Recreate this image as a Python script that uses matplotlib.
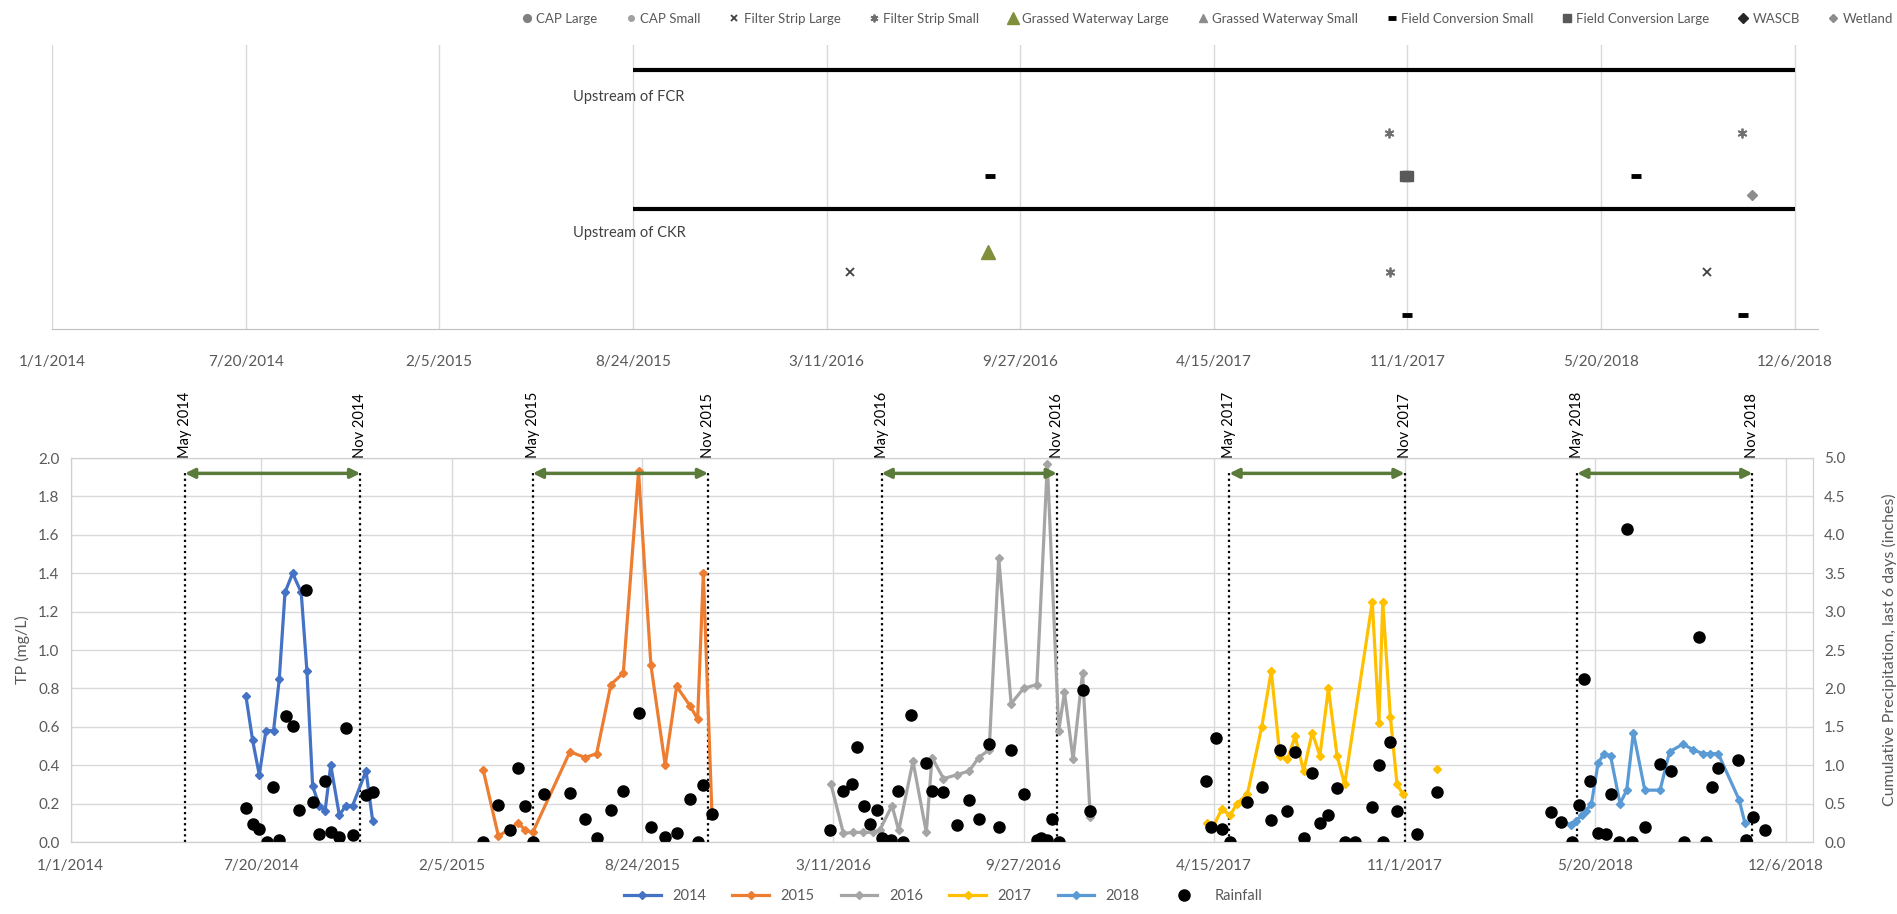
import datetime as dt

import matplotlib.dates as mdates
import matplotlib.pyplot as plt
from matplotlib.lines import Line2D
from matplotlib.ticker import FuncFormatter, MultipleLocator

plt.rcParams['font.family'] = ['Lato', 'DejaVu Sans']

AXIS_GREY = '#595959'
GRID_GREY = '#d9d9d9'

# ---- conservation practices installed upstream of each site ----
fcr_line_y = 18.6
ckr_line_y = 8.6
practice_line_dates = ['2015-08-24', '2018-12-06']

cap_large_dates, cap_large_y = [], []
cap_small_dates, cap_small_y = [], []
fs_large_dates = ['2016-04-04', '2018-09-06']
fs_large_y = [4.1, 4.1]
fs_small_dates = ['2017-10-13', '2018-10-13', '2017-10-14']
fs_small_y = [14.1, 14.1, 4.1]
gw_large_dates = ['2016-08-25']
gw_large_y = [5.5]
gw_small_dates, gw_small_y = [], []
fc_small_dates = ['2016-08-27', '2018-06-25', '2017-11-01', '2018-10-14']
fc_small_y = [11.0, 11.0, 1.0, 1.0]
fc_large_dates = ['2017-10-29', '2017-11-02']
fc_large_y = [11.0, 11.0]
wascb_dates, wascb_y = [], []
wetland_dates = ['2018-10-23']
wetland_y = [9.6]

# ---- weekly TP samples and 6-day rainfall (month-day within each year) ----
years = [2014, 2015, 2016, 2017, 2018]
year_colors = ['#4472c4', '#ed7d31', '#a5a5a5', '#ffc000', '#5b9bd5']

tp_dates_2014 = ['07-04', '07-11', '07-18', '07-25', '08-02', '08-08', '08-14', '08-22', '08-31', '09-06',
                 '09-12', '09-19', '09-25', '10-01', '10-10', '10-17', '10-24', '11-07', '11-14']
tp_2014 = [0.76, 0.53, 0.35, 0.58, 0.58, 0.85, 1.30, 1.40, 1.30, 0.89,
           0.29, 0.19, 0.16, 0.40, 0.14, 0.19, 0.19, 0.37, 0.11]
rain_dates_2014 = ['07-04', '07-11', '07-18', '07-26', '08-01', '08-08', '08-15', '08-22', '08-29', '09-05',
                   '09-12', '09-19', '09-25', '10-01', '10-10', '10-17', '10-24', '11-07', '11-14']
rain_2014 = [0.44, 0.24, 0.17, 0.00, 0.71, 0.03, 1.64, 1.51, 0.42, 3.28,
             0.52, 0.11, 0.80, 0.13, 0.07, 1.49, 0.09, 0.61, 0.65]

tp_dates_2015 = ['03-10', '03-26', '04-07', '04-16', '04-23', '05-01', '06-09', '06-25', '07-07', '07-22',
                 '08-04', '08-20', '09-02', '09-17', '09-29', '10-13', '10-21', '10-27', '11-05']
tp_2015 = [0.375, 0.03, 0.07, 0.10, 0.06, 0.05, 0.47, 0.44, 0.46, 0.82,
           0.88, 1.93, 0.92, 0.40, 0.81, 0.71, 0.64, 1.40, 0.15]
rain_dates_2015 = ['03-10', '03-26', '04-07', '04-16', '04-23', '05-01', '05-13', '06-09', '06-25', '07-07',
                   '07-22', '08-04', '08-20', '09-02', '09-17', '09-29', '10-13', '10-21', '10-27', '11-05']
rain_2015 = [0.00, 0.48, 0.16, 0.96, 0.47, 0.00, 0.62, 0.64, 0.30, 0.05,
             0.42, 0.66, 1.68, 0.19, 0.07, 0.12, 0.56, 0.00, 0.74, 0.36]

tp_dates_2016 = ['03-09', '03-22', '04-01', '04-12', '04-22', '04-29', '05-12', '05-19', '06-03', '06-17',
                 '06-23', '07-05', '07-19', '08-01', '08-11', '08-22', '09-01', '09-14', '09-27', '10-11',
                 '10-22', '11-03', '11-09', '11-18', '11-28', '12-06']
tp_2016 = [0.30, 0.045, 0.05, 0.05, 0.05, 0.06, 0.19, 0.06, 0.42, 0.05,
           0.44, 0.33, 0.35, 0.37, 0.44, 0.48, 1.48, 0.72, 0.80, 0.82,
           1.97, 0.58, 0.78, 0.43, 0.88, 0.13]
rain_dates_2016 = ['03-08', '03-22', '03-31', '04-05', '04-13', '04-19', '04-26', '05-01', '05-11', '05-18',
                   '05-24', '06-01', '06-17', '06-23', '07-05', '07-19', '08-01', '08-11', '08-22', '09-01',
                   '09-14', '09-27', '10-11', '10-15', '10-22', '10-27', '11-03', '11-28', '12-06']
rain_2016 = [0.16, 0.67, 0.76, 1.24, 0.47, 0.23, 0.42, 0.05, 0.02, 0.67,
             0.00, 1.65, 1.03, 0.66, 0.65, 0.22, 0.55, 0.30, 1.27, 0.20,
             1.20, 0.63, 0.02, 0.05, 0.02, 0.30, 0.00, 1.98, 0.40]

# the December 2017 sample stands alone (no sampling in November)
tp_dates_2017 = ['04-08', '04-14', '04-23', '05-02', '05-09', '05-20', '06-04', '06-14', '06-23', '07-01',
                 '07-09', '07-18', '07-27', '08-04', '08-13', '08-22', '08-30', '09-28', '10-05', '10-09',
                 '10-17', '10-24', '10-30', '11-15', '12-05']
tp_2017 = [0.10, 0.08, 0.17, 0.14, 0.20, 0.25, 0.60, 0.89, 0.45, 0.43,
           0.55, 0.37, 0.57, 0.45, 0.80, 0.45, 0.30, 1.25, 0.62, 1.25,
           0.65, 0.30, 0.25, None, 0.38]
rain_dates_2017 = ['04-06', '04-12', '04-17', '04-23', '05-02', '05-20', '06-04', '06-14', '06-23', '07-01',
                   '07-09', '07-18', '07-27', '08-04', '08-13', '08-22', '08-30', '09-10', '09-28', '10-05',
                   '10-09', '10-17', '10-24', '11-14', '12-05']
rain_2017 = [0.79, 0.20, 1.36, 0.17, 0.00, 0.52, 0.71, 0.28, 1.20, 0.40,
             1.17, 0.05, 0.90, 0.25, 0.35, 0.70, 0.00, 0.00, 0.45, 1.00,
             0.00, 1.30, 0.40, 0.10, 0.65]

tp_dates_2018 = ['04-15', '04-25', '04-30', '05-06', '05-10', '05-16', '05-23', '05-29', '06-05', '06-15',
                 '06-22', '06-29', '07-11', '07-27', '08-06', '08-20', '08-31', '09-10', '09-17', '09-26',
                 '10-18', '10-24']
tp_2018 = [0.106, 0.09, 0.11, 0.14, 0.16, 0.20, 0.41, 0.46, 0.45, 0.20,
           0.27, 0.57, 0.27, 0.27, 0.47, 0.51, 0.48, 0.46, 0.46, 0.46,
           0.22, 0.10]
rain_dates_2018 = ['04-04', '04-14', '04-26', '05-03', '05-08', '05-15', '05-23', '05-31', '06-05', '06-14',
                   '06-22', '06-28', '07-11', '07-27', '08-08', '08-21', '09-06', '09-13', '09-19', '09-26',
                   '10-17', '10-25', '11-02', '11-14']
rain_2018 = [0.39, 0.26, 0.00, 0.48, 2.12, 0.79, 0.12, 0.11, 0.63, 0.00,
             4.08, 0.00, 0.20, 1.02, 0.92, 0.00, 2.67, 0.00, 0.72, 0.97,
             1.07, 0.03, 0.33, 0.16]

tp_dates = [tp_dates_2014, tp_dates_2015, tp_dates_2016, tp_dates_2017, tp_dates_2018]
tp_values = [tp_2014, tp_2015, tp_2016, tp_2017, tp_2018]
rain_dates = [rain_dates_2014, rain_dates_2015, rain_dates_2016, rain_dates_2017, rain_dates_2018]
rain_values = [rain_2014, rain_2015, rain_2016, rain_2017, rain_2018]


def to_dates(year, month_days):
    return [dt.datetime.strptime(f'{year}-{md}', '%Y-%m-%d') for md in month_days]


def iso(dates):
    return [dt.datetime.strptime(d, '%Y-%m-%d') for d in dates]


def date_label(x, pos):
    d = mdates.num2date(x)
    return f'{d.month}/{d.day}/{d.year}'


def style_date_axis(axis, span_days, pad):
    start = dt.datetime(2014, 1, 1)
    axis.set_xlim(start, start + dt.timedelta(days=span_days))
    axis.set_xticks([start + dt.timedelta(days=200 * k) for k in range(10)])
    axis.xaxis.set_major_formatter(FuncFormatter(date_label))
    axis.tick_params(axis='x', length=0, labelsize=11, colors=AXIS_GREY, pad=pad)
    axis.grid(axis='x', color=GRID_GREY, lw=1)
    axis.set_axisbelow(True)


W, H = 1897, 914
fig = plt.figure(figsize=(W / 100, H / 100), dpi=100)

# ---------------- top: practice timeline ----------------
ax_top = fig.add_axes([52 / W, 1 - 329 / H, (1818 - 52) / W, (329 - 45) / H])
style_date_axis(ax_top, 1824, pad=19)
ax_top.set_ylim(0, 20.4)
ax_top.set_yticks([])
for side in ['left', 'right', 'top']:
    ax_top.spines[side].set_visible(False)
ax_top.spines['bottom'].set_color('#bfbfbf')

for y in [fcr_line_y, ckr_line_y]:
    ax_top.plot(iso(practice_line_dates), [y, y], color='black', lw=3, solid_capstyle='butt')
ax_top.text(dt.datetime(2015, 6, 23), 16.7, 'Upstream of FCR', fontsize=10.5, color='#404040', va='center')
ax_top.text(dt.datetime(2015, 6, 23), 6.9, 'Upstream of CKR', fontsize=10.5, color='#404040', va='center')

practice_styles = [
    ('CAP Large', cap_large_dates, cap_large_y, dict(marker='o', color='#808080', ms=7)),
    ('CAP Small', cap_small_dates, cap_small_y, dict(marker='o', color='#a0a0a0', ms=5)),
    ('Filter Strip Large', fs_large_dates, fs_large_y, dict(marker='x', color='#404040', ms=6, mew=1.3)),
    ('Filter Strip Small', fs_small_dates, fs_small_y, dict(marker=(6, 2, 0), color='#707070', ms=7, mew=1.3)),
    ('Grassed Waterway Large', gw_large_dates, gw_large_y, dict(marker='^', color='#7f8f3c', ms=10)),
    ('Grassed Waterway Small', gw_small_dates, gw_small_y, dict(marker='^', color='#8c8c8c', ms=7)),
    ('Field Conversion Small', fc_small_dates, fc_small_y, dict(marker='_', color='black', ms=7, mew=3.5)),
    ('Field Conversion Large', fc_large_dates, fc_large_y, dict(marker='s', color='#595959', ms=7)),
    ('WASCB', wascb_dates, wascb_y, dict(marker='D', color='#262626', ms=6)),
    ('Wetland', wetland_dates, wetland_y, dict(marker='D', color='#8c8c8c', ms=5)),
]
top_handles = []
for name, dates, ys, style in practice_styles:
    if dates:
        ax_top.plot(iso(dates), ys, ls='none', **style)
    top_handles.append(Line2D([], [], ls='none', label=name, **style))

fig.legend(handles=top_handles, loc='center', bbox_to_anchor=(1206 / W, 1 - 19 / H), ncol=10,
           frameon=False, fontsize=9.5, labelcolor=AXIS_GREY, handletextpad=0.1, columnspacing=1.95,
           handlelength=1.2, borderpad=0, borderaxespad=0, markerscale=0.8)

# ---------------- bottom: TP and rainfall ----------------
ax = fig.add_axes([70.6 / W, 72 / H, (1813 - 70.6) / W, 384 / H])
ax2 = ax.twinx()
style_date_axis(ax, 1828.5, pad=12)
ax.set_ylim(0, 2.0)
ax2.set_ylim(0, 5.0)
ax.yaxis.set_major_locator(MultipleLocator(0.2))
ax2.yaxis.set_major_locator(MultipleLocator(0.5))
ax.yaxis.set_major_formatter(FuncFormatter(lambda v, p: f'{v:.1f}'))
ax2.yaxis.set_major_formatter(FuncFormatter(lambda v, p: f'{v:.1f}'))
ax.grid(axis='y', color=GRID_GREY, lw=1)
for a in (ax, ax2):
    a.tick_params(axis='y', length=0, labelsize=11, colors=AXIS_GREY, pad=8)
    for s in a.spines.values():
        s.set_color('#d0d0d0')
ax.spines['bottom'].set_color('#bfbfbf')
ax.set_ylabel('TP (mg/L)', fontsize=11.5, color=AXIS_GREY, labelpad=6)
ax2.set_ylabel('Cumulative Precipitation, last 6 days (inches)', fontsize=11.5, color=AXIS_GREY, labelpad=26)

bottom_handles = []
for year, color, md, vals in zip(years, year_colors, tp_dates, tp_values):
    vals = [float('nan') if v is None else v for v in vals]
    line, = ax.plot(to_dates(year, md), vals, color=color, lw=2.3, marker='D', ms=4.5, label=str(year))
    bottom_handles.append(line)

all_rain_dates, all_rain = [], []
for year, md, vals in zip(years, rain_dates, rain_values):
    all_rain_dates += to_dates(year, md)
    all_rain += vals
rain_pts, = ax2.plot(all_rain_dates, all_rain, ls='none', marker='o', color='black', ms=8, label='Rainfall')
bottom_handles.append(rain_pts)

# sampling season: May through November
for year in years:
    may = dt.datetime(year, 5, 1)
    nov = dt.datetime(year, 11, 1)
    for d in (may, nov):
        ax.plot([d, d], [0, 1.92], color='black', ls=(0, (1, 1.5)), lw=1.6, zorder=1)
    ax.annotate('', xy=(mdates.date2num(nov), 1.92), xytext=(mdates.date2num(may), 1.92),
                arrowprops=dict(arrowstyle='<|-|>', color='#5b7b3a', lw=2.5, mutation_scale=14,
                                shrinkA=0, shrinkB=0))
    ax.text(may, 2.0, f'May {year}', rotation=90, ha='center', va='bottom', fontsize=10.5)
    ax.text(nov, 2.0, f'Nov {year}', rotation=90, ha='center', va='bottom', fontsize=10.5)

fig.legend(handles=bottom_handles, loc='center', bbox_to_anchor=(943 / W, 1 - 896 / H), ncol=6,
           frameon=False, fontsize=10.5, labelcolor=AXIS_GREY, handlelength=2.5, columnspacing=1.8)

fig.savefig('out.png', dpi=100)
